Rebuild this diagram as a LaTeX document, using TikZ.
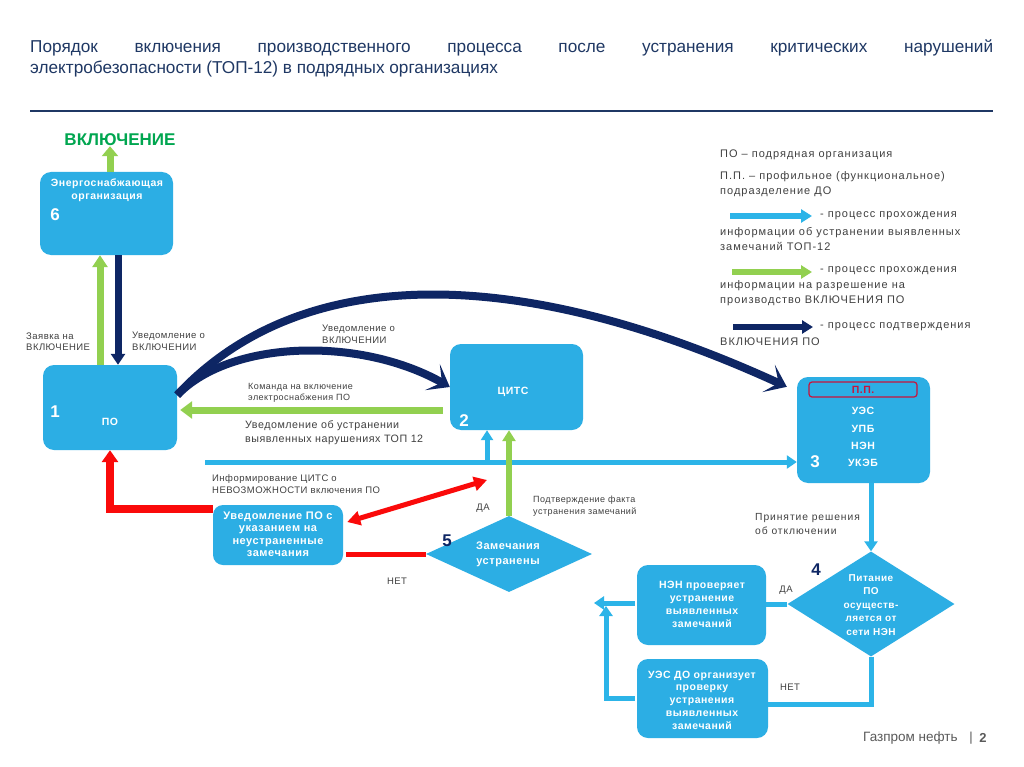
\documentclass[tikz,border=0pt]{standalone}
\usepackage{fontspec}
\setmainfont{Liberation Sans}
\newfontfamily\spfont[LetterSpace=5]{Liberation Sans}
\newfontfamily\lgfont[LetterSpace=9]{Liberation Sans}
\usetikzlibrary{arrows.meta,shapes.geometric}
\definecolor{nodeblue}{RGB}{44,174,228}
\definecolor{arrblue}{RGB}{44,180,232}
\definecolor{agreen}{RGB}{146,208,80}
\definecolor{navy}{RGB}{14,38,100}
\definecolor{ared}{RGB}{250,10,10}
\definecolor{titleblue}{RGB}{31,56,100}
\definecolor{lblgray}{RGB}{64,64,64}
\definecolor{vkgreen}{RGB}{0,166,80}
\definecolor{pbred}{RGB}{200,20,60}
\definecolor{footgray}{RGB}{90,90,90}
\begin{document}
\begin{tikzpicture}[x=1pt,y=-1pt,
  box/.style={rectangle, fill=nodeblue, rounded corners=11pt, inner sep=0pt},
  dia/.style={diamond, fill=nodeblue, inner sep=0pt},
  wt/.style={text=white, font=\spfont\bfseries\fontsize{10.5}{13}\selectfont, align=center, inner sep=0pt},
  num/.style={text=white, font=\bfseries\fontsize{17}{17}\selectfont, inner sep=0pt},
  lbl/.style={text=lblgray, font=\spfont\fontsize{9.5}{11.5}\selectfont, align=left, inner sep=0pt, anchor=west},
  leg/.style={text=lblgray, font=\lgfont\fontsize{11}{15}\selectfont, align=left, inner sep=0pt, anchor=west},
  garr/.style={draw=agreen, line width=7pt, -{Triangle[width=17pt,length=12pt]}},
  narr/.style={draw=navy, line width=7pt, -{Triangle[width=14pt,length=11pt]}},
  barr/.style={draw=arrblue, line width=5pt, -{Triangle[width=13pt,length=10pt]}},
  bline/.style={draw=arrblue, line width=5pt},
  rarr/.style={draw=ared, line width=8pt, -{Triangle[width=16pt,length=12pt]}},
  rdbl/.style={draw=ared, line width=5pt, {Triangle[width=14pt,length=13pt]}-{Triangle[width=14pt,length=13pt]}},
  rline/.style={draw=ared, line width=5pt},
  curve/.style={draw=navy, line width=8pt, -{Stealth[width=30pt,length=20pt,inset=11pt]}}
]
\useasboundingbox[fill=white] (0,0) rectangle (1024,767);

% title
\node[anchor=north west, inner sep=0pt, text=titleblue, font=\fontsize{17.2}{21}\selectfont, align=left] (title) at (30,40)
 {\makebox[963pt][s]{Порядок\hfill включения\hfill производственного\hfill процесса\hfill после\hfill устранения\hfill критических\hfill нарушений}\\электробезопасности (ТОП-12) в подрядных организациях};
\draw[titleblue, line width=1.3pt] (30,111) -- (993,111);

% boxes
\node[box, minimum width=133, minimum height=83] (n6) at (106.5,213.5) {};
\node[wt] (n6t) at (107,190) {Энергоснабжающая\\организация};
\node[num] (n6n) at (55,215) {6};

\node[box, minimum width=134, minimum height=85] (n1) at (110,407.5) {};
\node[num] (n1n) at (55,412) {1};
\node[wt] (n1t) at (110,422) {ПО};

\node[box, minimum width=133, minimum height=86] (n2) at (516.5,387) {};
\node[wt] (n2t) at (513,392) {ЦИТС};
\node[num] (n2n) at (464,421) {2};

\node[box, minimum width=133, minimum height=106] (n3) at (863.5,430) {};
\node[draw=pbred, line width=1.2pt, rounded corners=3pt, minimum width=108, minimum height=15, inner sep=0pt,
      text=pbred, font=\spfont\bfseries\fontsize{10.5}{12}\selectfont] (pp) at (863,389.5) {П.П.};
\node[wt] (u1) at (863,411) {УЭС};
\node[wt] (u2) at (863,429) {УПБ};
\node[wt] (u3) at (863,446) {НЭН};
\node[wt] (u4) at (863,463) {УКЭБ};
\node[num] (n3n) at (815,462) {3};

\node[box, rounded corners=10pt, minimum width=130, minimum height=60] (nU) at (278,535) {};
\node[wt, font=\spfont\bfseries\fontsize{11}{12.5}\selectfont] (nUt) at (278,534) {Уведомление ПО с\\указанием на\\неустраненные\\замечания};

\node[dia, minimum width=166, minimum height=76] (d5) at (509,554) {};
\node[wt, font=\spfont\bfseries\fontsize{11}{15}\selectfont] (d5t) at (508,554.5) {Замечания\\устранены};
\node[num, text=navy] (d5n) at (447,541) {5};

\node[dia, minimum width=167, minimum height=105] (d4) at (871,604) {};
\node[wt, font=\spfont\bfseries\fontsize{10}{13.5}\selectfont] (d4t) at (871,605) {Питание\\ПО\\осуществ-\\ляется от\\сети НЭН};
\node[num, text=navy] (d4n) at (816,570) {4};

\node[box, minimum width=129, minimum height=80] (nN) at (701.5,605) {};
\node[wt, font=\spfont\bfseries\fontsize{10.5}{13}\selectfont] (nNt) at (702,604.5) {НЭН проверяет\\устранение\\выявленных\\замечаний};

\node[box, minimum width=131, minimum height=79] (nE) at (702.5,698.5) {};
\node[wt, font=\spfont\bfseries\fontsize{10.5}{12.7}\selectfont] (nEt) at (702,700) {УЭС ДО организует\\проверку\\устранения\\выявленных\\замечаний};

% ВКЛЮЧЕНИЕ
\node[text=vkgreen, font=\bfseries\fontsize{17}{17}\selectfont, inner sep=0pt] (vk) at (120,140) {ВКЛЮЧЕНИЕ};
\draw[garr, line width=7pt, -{Triangle[width=16pt,length=10pt]}] ([xshift=3.5pt]n6.north) -- ([xshift=3.5pt]n6.north |- vk.south);

% vertical arrows between 1 and 6
\coordinate (g16) at ([xshift=-10pt]n1.north);
\draw[garr, -{Triangle[width=15pt,length=12pt]}] (g16) -- (g16 |- n6.south);
\coordinate (n61) at ([xshift=11.5pt]n6.south);
\draw[narr] (n61) -- (n61 |- n1.north);

% curved navy arrows
\coordinate (cs) at ([yshift=12.5pt]n1.east);
\draw[curve] (cs) .. controls (300,263) and (517,263) .. ([xshift=-10pt,yshift=-10pt]n3.north west);
\draw[curve] (cs) .. controls (230,340) and (360,336) .. (n2.west);

% green from 2 to 1
\coordinate (g21) at ([xshift=-7pt,yshift=-23pt]n2.west);
\coordinate (g21e) at ([xshift=3pt]n1.east |- g21);
\draw[garr] (g21) -- (g21e);

% blue horizontal to 3
\coordinate (bstart) at (205,462);
\draw[barr] (bstart) -- (bstart -| n3.west);
\coordinate (bj) at (487,462);
\draw[barr, -{Triangle[width=12pt,length=10pt]}] (bj) -- (bj |- n2.south);

% green from 5 to 2
\draw[garr, line width=5.5pt, -{Triangle[width=13pt,length=11pt]}] (d5.north) -- (d5.north |- n2.south);

% red arrows
\draw[rarr] ([yshift=26pt]nU.west) -| (n1.south);
\coordinate (rd1) at ([xshift=4pt,yshift=13pt]nU.east);
\coordinate (rd2) at (487,480);
\draw[rdbl] (rd1) -- (rd2);
\draw[rline] (d5.west) -- ([xshift=3pt]d5.west -| nU.east);

% right side
\draw[barr] (d4.north |- n3.south) -- (d4.north);
\draw[bline] (d4.west) -- (d4.west -| nN.east);
\draw[bline, line join=miter] (d4.south) |- ([yshift=-5.5pt]nE.east);
\coordinate (conv) at (594,603);
\draw[barr] ([xshift=-2pt]nN.west |- conv) -- (conv);
\coordinate (conv2) at (606,606);
\draw[barr, line join=miter] ([xshift=-2pt]nE.west) -| (conv2);

% labels
\node[lbl] (l1) at (26,341.5) {Заявка на\\ВКЛЮЧЕНИЕ};
\node[lbl] (l2) at (132,341.5) {Уведомление  о\\ВКЛЮЧЕНИИ};
\node[lbl] (l3) at (322,334.5) {Уведомление  о\\ВКЛЮЧЕНИИ};
\node[lbl, font=\spfont\fontsize{9}{11}\selectfont] (l4) at (248,392.5) {Команда на включение\\электроснабжения ПО};
\node[lbl, font=\spfont\fontsize{10.7}{14}\selectfont] (l5) at (245,433) {Уведомление об устранении\\выявленных нарушениях ТОП 12};
\node[lbl] (l6) at (212,484) {Информирование ЦИТС о\\НЕВОЗМОЖНОСТИ включения ПО};
\node[lbl, anchor=center] (l7) at (483,508) {ДА};
\node[lbl, font=\spfont\fontsize{9}{12}\selectfont] (l8) at (533,506) {Подтверждение факта\\устранения замечаний};
\node[lbl, anchor=center] (l9) at (397,581) {НЕТ};
\node[lbl, font=\lgfont\fontsize{10.3}{14}\selectfont] (l10) at (755,524) {Принятие  решения\\об отключении};
\node[lbl, anchor=center] (l11) at (786,590) {ДА};
\node[lbl, anchor=center] (l12) at (790,687) {НЕТ};

% legend
\node[leg] (lg1) at (720,155) {ПО – подрядная организация};
\node[leg] (lg2) at (720,184.5) {П.П. – профильное (функциональное)\\подразделение ДО};
\coordinate (lb1) at (730,216); \coordinate (lb2) at (812,216);
\draw[barr, line width=6.5pt, -{Triangle[width=13pt,length=11pt]}] (lb1) -- (lb2);
\node[leg] (lg3) at (820,216) {- процесс прохождения};
\node[leg] (lg4) at (720,239.5) {информации об устранении выявленных\\замечаний ТОП-12};
\coordinate (lg1a) at (732,272); \coordinate (lg1b) at (812,272);
\draw[garr, line width=6.5pt, -{Triangle[width=13pt,length=11pt]}] (lg1a) -- (lg1b);
\node[leg] (lg5) at (820,271) {- процесс прохождения};
\node[leg] (lg6) at (720,293.5) {информации на разрешение на\\производство ВКЛЮЧЕНИЯ ПО};
\coordinate (ln1) at (733,327); \coordinate (ln2) at (813,327);
\draw[narr, line width=6.5pt, -{Triangle[width=13pt,length=11pt]}] (ln1) -- (ln2);
\node[leg] (lg7) at (820,327) {- процесс подтверждения};
\node[leg] (lg8) at (720,342) {ВКЛЮЧЕНИЯ ПО};

% footer
\node[anchor=west, inner sep=0pt, text=footgray, font=\fontsize{13.5}{13.5}\selectfont] (foot) at (863,738) {Газпром нефть};
\node[inner sep=0pt, text=footgray, font=\fontsize{13}{13}\selectfont] (bar) at (971,738) {|};
\node[inner sep=0pt, text=footgray, font=\bfseries\fontsize{13}{13}\selectfont] (pg) at (983,738) {2};
\end{tikzpicture}
\end{document}
